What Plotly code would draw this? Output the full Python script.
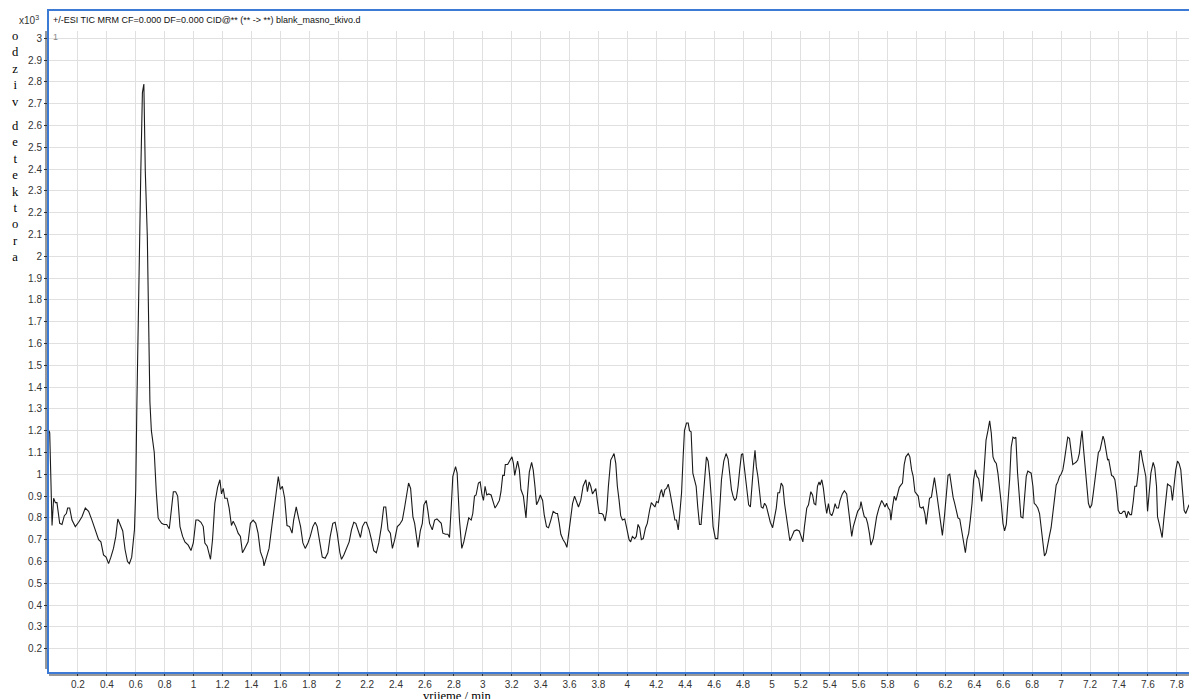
import plotly.graph_objects as go

# retention time (min) and detector response (x10^3)
time_min = [
    0.000, 0.005, 0.021, 0.032, 0.044, 0.055, 0.074, 0.090, 0.106, 0.120, 0.129, 0.143, 0.159, 0.182,
    0.205, 0.228, 0.251, 0.274, 0.297, 0.320, 0.343, 0.359, 0.377, 0.395, 0.412, 0.428, 0.446, 0.462,
    0.476, 0.492, 0.510, 0.526, 0.543, 0.556, 0.572, 0.591, 0.600, 0.608, 0.618, 0.626, 0.635, 0.646,
    0.656, 0.666, 0.680, 0.687, 0.698, 0.708, 0.728, 0.742, 0.755, 0.763, 0.779, 0.795, 0.814, 0.832,
    0.848, 0.860, 0.876, 0.890, 0.906, 0.924, 0.940, 0.963, 0.982, 0.998, 1.016, 1.032, 1.051, 1.067,
    1.078, 1.094, 1.117, 1.131, 1.147, 1.166, 1.182, 1.193, 1.205, 1.216, 1.232, 1.246, 1.262, 1.274,
    1.292, 1.308, 1.324, 1.338, 1.354, 1.377, 1.393, 1.412, 1.430, 1.446, 1.462, 1.481, 1.487, 1.503,
    1.522, 1.538, 1.554, 1.572, 1.586, 1.600, 1.614, 1.630, 1.646, 1.664, 1.681, 1.692, 1.710, 1.726,
    1.740, 1.756, 1.772, 1.791, 1.807, 1.825, 1.841, 1.855, 1.871, 1.890, 1.910, 1.929, 1.945, 1.963,
    1.979, 1.993, 2.012, 2.023, 2.039, 2.058, 2.076, 2.092, 2.108, 2.122, 2.138, 2.154, 2.168, 2.184,
    2.195, 2.214, 2.230, 2.246, 2.264, 2.281, 2.299, 2.315, 2.329, 2.345, 2.361, 2.375, 2.391, 2.409,
    2.425, 2.444, 2.460, 2.476, 2.487, 2.501, 2.517, 2.529, 2.540, 2.552, 2.568, 2.582, 2.593, 2.609,
    2.621, 2.632, 2.651, 2.667, 2.683, 2.701, 2.713, 2.724, 2.743, 2.759, 2.770, 2.782, 2.793, 2.812,
    2.823, 2.839, 2.855, 2.869, 2.885, 2.903, 2.920, 2.931, 2.943, 2.954, 2.970, 2.982, 2.995, 3.005,
    3.016, 3.028, 3.041, 3.058, 3.069, 3.085, 3.099, 3.115, 3.126, 3.138, 3.149, 3.156, 3.172, 3.189,
    3.202, 3.212, 3.221, 3.230, 3.241, 3.253, 3.264, 3.281, 3.290, 3.299, 3.310, 3.322, 3.338, 3.349,
    3.361, 3.372, 3.386, 3.398, 3.414, 3.425, 3.441, 3.455, 3.471, 3.487, 3.506, 3.517, 3.529, 3.540,
    3.556, 3.570, 3.582, 3.593, 3.609, 3.621, 3.635, 3.648, 3.662, 3.678, 3.694, 3.713, 3.724, 3.736,
    3.747, 3.759, 3.770, 3.782, 3.793, 3.805, 3.823, 3.832, 3.846, 3.858, 3.869, 3.885, 3.897, 3.908,
    3.920, 3.931, 3.943, 3.954, 3.966, 3.982, 3.995, 4.012, 4.023, 4.035, 4.051, 4.062, 4.074, 4.085,
    4.097, 4.110, 4.126, 4.138, 4.154, 4.166, 4.179, 4.191, 4.202, 4.214, 4.228, 4.237, 4.248, 4.260,
    4.271, 4.283, 4.294, 4.306, 4.317, 4.329, 4.340, 4.352, 4.363, 4.375, 4.386, 4.395, 4.409, 4.421,
    4.430, 4.441, 4.453, 4.462, 4.476, 4.487, 4.499, 4.510, 4.522, 4.536, 4.547, 4.559, 4.570, 4.582,
    4.593, 4.609, 4.625, 4.637, 4.651, 4.667, 4.683, 4.697, 4.708, 4.720, 4.731, 4.743, 4.754, 4.766,
    4.777, 4.789, 4.798, 4.809, 4.816, 4.828, 4.839, 4.851, 4.862, 4.874, 4.883, 4.892, 4.903, 4.915,
    4.926, 4.938, 4.949, 4.961, 4.972, 4.989, 5.005, 5.016, 5.030, 5.041, 5.053, 5.064, 5.076, 5.087,
    5.099, 5.110, 5.124, 5.138, 5.154, 5.172, 5.189, 5.202, 5.214, 5.225, 5.241, 5.253, 5.269, 5.281,
    5.292, 5.303, 5.315, 5.326, 5.333, 5.345, 5.356, 5.368, 5.379, 5.391, 5.402, 5.414, 5.425, 5.437,
    5.448, 5.460, 5.471, 5.487, 5.501, 5.517, 5.529, 5.540, 5.552, 5.563, 5.579, 5.593, 5.609, 5.616,
    5.628, 5.639, 5.651, 5.662, 5.674, 5.685, 5.701, 5.713, 5.724, 5.740, 5.759, 5.770, 5.782, 5.793,
    5.805, 5.816, 5.823, 5.834, 5.846, 5.858, 5.869, 5.881, 5.892, 5.903, 5.915, 5.926, 5.943, 5.954,
    5.966, 5.977, 5.989, 6.000, 6.012, 6.023, 6.035, 6.046, 6.058, 6.067, 6.078, 6.090, 6.103, 6.115,
    6.124, 6.136, 6.147, 6.159, 6.170, 6.179, 6.193, 6.205, 6.218, 6.230, 6.241, 6.253, 6.264, 6.276,
    6.287, 6.299, 6.310, 6.326, 6.338, 6.349, 6.361, 6.372, 6.384, 6.395, 6.407, 6.418, 6.430, 6.441,
    6.451, 6.460, 6.471, 6.481, 6.494, 6.506, 6.517, 6.529, 6.540, 6.552, 6.563, 6.575, 6.586, 6.598,
    6.609, 6.621, 6.632, 6.644, 6.655, 6.667, 6.678, 6.687, 6.699, 6.710, 6.722, 6.736, 6.747, 6.759,
    6.770, 6.782, 6.793, 6.805, 6.814, 6.825, 6.839, 6.851, 6.862, 6.874, 6.885, 6.897, 6.908, 6.920,
    6.931, 6.943, 6.954, 6.966, 6.977, 6.989, 7.000, 7.012, 7.023, 7.035, 7.046, 7.058, 7.069, 7.081,
    7.092, 7.103, 7.115, 7.126, 7.138, 7.145, 7.154, 7.166, 7.177, 7.189, 7.200, 7.212, 7.223, 7.235,
    7.246, 7.258, 7.269, 7.281, 7.290, 7.299, 7.310, 7.322, 7.329, 7.338, 7.349, 7.361, 7.372, 7.384,
    7.395, 7.407, 7.418, 7.430, 7.441, 7.453, 7.464, 7.476, 7.487, 7.499, 7.510, 7.522, 7.533, 7.545,
    7.552, 7.563, 7.575, 7.586, 7.598, 7.609, 7.621, 7.637, 7.648, 7.660, 7.667, 7.678, 7.690, 7.699,
    7.710, 7.722, 7.736, 7.747, 7.759, 7.770, 7.782, 7.793, 7.805, 7.816, 7.828, 7.839, 7.851, 7.862,
    7.874, 7.885, 7.897, 7.906, 7.917, 7.926, 7.940,
]

response = [
    1.20, 1.19, 0.765, 0.89, 0.87, 0.87, 0.775, 0.77, 0.81, 0.82, 0.845, 0.845, 0.79, 0.76,
    0.78, 0.805, 0.845, 0.83, 0.79, 0.745, 0.70, 0.69, 0.63, 0.62, 0.59, 0.62, 0.66, 0.715,
    0.795, 0.77, 0.74, 0.655, 0.60, 0.59, 0.62, 0.745, 0.93, 1.33, 1.79, 2.09, 2.39, 2.75,
    2.79, 2.39, 2.09, 1.79, 1.33, 1.20, 1.10, 0.92, 0.80, 0.79, 0.775, 0.77, 0.77, 0.75,
    0.85, 0.92, 0.92, 0.90, 0.76, 0.715, 0.69, 0.675, 0.65, 0.685, 0.79, 0.79, 0.78, 0.76,
    0.685, 0.67, 0.61, 0.70, 0.867, 0.94, 0.975, 0.91, 0.935, 0.89, 0.89, 0.845, 0.765, 0.785,
    0.76, 0.73, 0.715, 0.64, 0.66, 0.69, 0.775, 0.79, 0.775, 0.73, 0.645, 0.61, 0.58, 0.62,
    0.66, 0.745, 0.83, 0.90, 0.99, 0.93, 0.945, 0.89, 0.765, 0.76, 0.73, 0.79, 0.85, 0.80,
    0.76, 0.685, 0.66, 0.685, 0.715, 0.76, 0.78, 0.76, 0.685, 0.62, 0.615, 0.64, 0.715, 0.775,
    0.78, 0.73, 0.64, 0.61, 0.63, 0.66, 0.69, 0.745, 0.78, 0.775, 0.74, 0.71, 0.76, 0.78,
    0.78, 0.745, 0.70, 0.65, 0.64, 0.685, 0.76, 0.85, 0.85, 0.745, 0.73, 0.66, 0.70, 0.76,
    0.77, 0.79, 0.85, 0.91, 0.96, 0.935, 0.805, 0.775, 0.715, 0.665, 0.74, 0.775, 0.86, 0.88,
    0.83, 0.775, 0.745, 0.79, 0.795, 0.78, 0.775, 0.73, 0.725, 0.725, 0.71, 0.85, 0.99, 1.035,
    1.005, 0.79, 0.66, 0.69, 0.745, 0.80, 0.79, 0.82, 0.90, 0.905, 0.96, 0.965, 0.905, 0.88,
    0.945, 0.905, 0.91, 0.905, 0.88, 0.845, 0.86, 0.88, 0.92, 0.995, 0.995, 1.045, 1.045, 1.065,
    1.08, 1.05, 0.995, 1.025, 1.06, 1.02, 0.93, 0.90, 0.83, 0.80, 0.91, 1.01, 1.055, 1.02,
    0.945, 0.86, 0.88, 0.905, 0.88, 0.815, 0.76, 0.755, 0.79, 0.83, 0.82, 0.82, 0.775, 0.725,
    0.70, 0.685, 0.665, 0.715, 0.805, 0.865, 0.90, 0.88, 0.85, 0.88, 0.945, 0.975, 0.92, 0.965,
    0.945, 0.91, 0.925, 0.935, 0.875, 0.82, 0.82, 0.815, 0.785, 0.835, 0.945, 1.065, 1.08, 1.095,
    1.05, 0.945, 0.88, 0.81, 0.79, 0.795, 0.755, 0.70, 0.69, 0.715, 0.705, 0.715, 0.77, 0.755,
    0.70, 0.705, 0.755, 0.775, 0.835, 0.87, 0.86, 0.85, 0.875, 0.87, 0.915, 0.93, 0.895, 0.93,
    0.935, 0.955, 0.92, 0.875, 0.835, 0.79, 0.79, 0.745, 0.82, 0.915, 1.08, 1.20, 1.235, 1.235,
    1.20, 1.195, 1.005, 0.975, 0.945, 0.85, 0.77, 0.77, 0.867, 1.005, 1.08, 1.06, 0.99, 0.88,
    0.76, 0.705, 0.705, 0.82, 0.975, 1.06, 1.095, 1.07, 0.99, 0.93, 0.90, 0.88, 0.89, 0.945,
    1.02, 1.09, 1.095, 1.035, 0.975, 0.93, 0.86, 0.85, 0.96, 1.05, 1.11, 1.035, 0.99, 0.90,
    0.85, 0.845, 0.867, 0.855, 0.82, 0.78, 0.755, 0.80, 0.845, 0.915, 0.915, 0.96, 0.945, 0.867,
    0.805, 0.745, 0.695, 0.715, 0.74, 0.745, 0.74, 0.715, 0.69, 0.76, 0.845, 0.86, 0.92, 0.905,
    0.865, 0.86, 0.945, 0.965, 0.95, 0.975, 0.935, 0.867, 0.82, 0.865, 0.82, 0.81, 0.83, 0.865,
    0.845, 0.845, 0.88, 0.91, 0.925, 0.91, 0.85, 0.79, 0.715, 0.76, 0.805, 0.83, 0.845, 0.875,
    0.835, 0.805, 0.80, 0.775, 0.73, 0.675, 0.705, 0.755, 0.805, 0.845, 0.88, 0.867, 0.85, 0.867,
    0.845, 0.835, 0.79, 0.85, 0.90, 0.88, 0.915, 0.94, 0.95, 0.96, 1.045, 1.08, 1.095, 1.08,
    1.02, 0.99, 0.92, 0.91, 0.90, 0.85, 0.845, 0.85, 0.82, 0.77, 0.83, 0.89, 0.895, 0.95,
    0.985, 0.93, 0.875, 0.82, 0.76, 0.72, 0.805, 0.915, 0.995, 1.00, 0.945, 0.895, 0.867, 0.83,
    0.80, 0.795, 0.745, 0.685, 0.64, 0.70, 0.73, 0.79, 0.867, 0.975, 1.02, 0.99, 0.98, 0.93,
    0.875, 0.945, 1.05, 1.157, 1.20, 1.245, 1.19, 1.08, 1.06, 1.05, 1.005, 0.945, 0.867, 0.775,
    0.74, 0.77, 0.85, 0.975, 1.125, 1.17, 1.165, 1.17, 1.005, 0.90, 0.805, 0.80, 0.915, 0.99,
    1.015, 1.01, 1.005, 0.945, 0.867, 0.86, 0.845, 0.82, 0.76, 0.685, 0.625, 0.64, 0.685, 0.72,
    0.755, 0.82, 0.89, 0.95, 0.965, 0.99, 1.00, 1.02, 1.065, 1.125, 1.17, 1.165, 1.11, 1.045,
    1.05, 1.055, 1.065, 1.095, 1.165, 1.20, 1.125, 1.03, 0.945, 0.867, 0.845, 0.86, 0.915, 0.975,
    1.035, 1.10, 1.11, 1.157, 1.175, 1.157, 1.11, 1.065, 1.07, 1.03, 0.995, 0.99, 0.975, 0.915,
    0.835, 0.82, 0.82, 0.83, 0.83, 0.80, 0.83, 0.815, 0.815, 0.875, 0.945, 0.945, 1.005, 1.105,
    1.11, 1.065, 1.03, 0.99, 0.83, 0.93, 1.005, 1.055, 1.03, 0.945, 0.805, 0.775, 0.74, 0.71,
    0.79, 0.867, 0.955, 0.95, 0.945, 0.88, 0.96, 1.02, 1.06, 1.05, 1.02, 0.92, 0.835, 0.82,
    0.845, 0.86, 0.835, 0.79, 0.765, 0.76, 0.765,
]

x_tick_values = [0.2, 0.4, 0.6, 0.8, 1.0, 1.2, 1.4, 1.6, 1.8, 2.0, 2.2, 2.4, 2.6, 2.8, 3.0, 3.2, 3.4, 3.6,
                 3.8, 4.0, 4.2, 4.4, 4.6, 4.8, 5.0, 5.2, 5.4, 5.6, 5.8, 6.0, 6.2, 6.4, 6.6, 6.8, 7.0, 7.2,
                 7.4, 7.6, 7.8]
x_tick_labels = ["0.2", "0.4", "0.6", "0.8", "1", "1.2", "1.4", "1.6", "1.8", "2", "2.2", "2.4", "2.6",
                 "2.8", "3", "3.2", "3.4", "3.6", "3.8", "4", "4.2", "4.4", "4.6", "4.8", "5", "5.2", "5.4",
                 "5.6", "5.8", "6", "6.2", "6.4", "6.6", "6.8", "7", "7.2", "7.4", "7.6", "7.8"]
y_tick_values = [0.2, 0.3, 0.4, 0.5, 0.6, 0.7, 0.8, 0.9, 1.0, 1.1, 1.2, 1.3, 1.4, 1.5, 1.6, 1.7, 1.8,
                 1.9, 2.0, 2.1, 2.2, 2.3, 2.4, 2.5, 2.6, 2.7, 2.8, 2.9, 3.0]
y_tick_labels = ["0.2", "0.3", "0.4", "0.5", "0.6", "0.7", "0.8", "0.9", "1", "1.1", "1.2", "1.3", "1.4",
                 "1.5", "1.6", "1.7", "1.8", "1.9", "2", "2.1", "2.2", "2.3", "2.4", "2.5", "2.6", "2.7",
                 "2.8", "2.9", "3"]

title_text = "+/-ESI TIC MRM CF=0.000 DF=0.000 CID@** (** -> **) blank_masno_tkivo.d"
y_title_1 = ["o", "d", "z", "i", "v"]
y_title_2 = ["d", "e", "t", "e", "k", "t", "o", "r", "a"]
x_title = "vrijeme / min"

# page body has an 8px margin: the figure is drawn 8px shorter/narrower and shifted
OFF = 8
W, H = 1197 - OFF, 699 - OFF
ML, MR, MT, MB = 49 - OFF, 0, 31 - OFF, 26
PW, PH = W - ML - MR, H - MT - MB


def px_x(page_px):
    return (page_px - OFF - ML) / PW


def px_y(page_py):
    return (H - MB - (page_py - OFF)) / PH


fig = go.Figure()
fig.add_trace(go.Scatter(x=time_min, y=response, mode="lines",
                         line=dict(color="#1a1a1a", width=1.1), hoverinfo="x+y"))

tick_font = dict(family="Liberation Sans, Arial, sans-serif", size=10, color="#333333")
serif = dict(family="Liberation Serif, Times New Roman, serif", size=12.6, color="#000000")

fig.update_layout(
    width=W, height=H,
    margin=dict(l=ML, r=MR, t=MT, b=MB),
    paper_bgcolor="white", plot_bgcolor="white",
    showlegend=False,
    xaxis=dict(range=[0, 7.94], tickvals=x_tick_values, ticktext=x_tick_labels,
               showgrid=True, gridcolor="#e0e0e0", gridwidth=1, zeroline=False,
               ticks="outside", ticklen=2, tickcolor="#333333", tickfont=tick_font,
               showline=False),
    yaxis=dict(range=[0.0886, 3.033], tickvals=y_tick_values, ticktext=y_tick_labels,
               showgrid=True, gridcolor="#e0e0e0", gridwidth=1, zeroline=False,
               ticks="outside", ticklen=4, tickcolor="#333333", tickfont=tick_font,
               showline=False),
)

annotations = [
    dict(text=title_text, x=px_x(51), y=px_y(20), xref="paper", yref="paper",
         xanchor="left", yanchor="middle", showarrow=False,
         font=dict(family="Liberation Sans, Arial, sans-serif", size=9, color="#111111")),
    dict(text="x10<sup>3</sup>", x=px_x(41), y=px_y(20), xref="paper", yref="paper",
         xanchor="right", yanchor="middle", showarrow=False, font=tick_font),
    dict(text="1", x=px_x(51), y=px_y(37), xref="paper", yref="paper",
         xanchor="left", yanchor="middle", showarrow=False,
         font=dict(family="Liberation Sans, Arial, sans-serif", size=9, color="#888888")),
    dict(text="<br>".join(y_title_1), x=px_x(15), y=px_y(69.5), xref="paper", yref="paper",
         xanchor="center", yanchor="middle", showarrow=False, font=serif),
    dict(text="<br>".join(y_title_2), x=px_x(15), y=px_y(192), xref="paper", yref="paper",
         xanchor="center", yanchor="middle", showarrow=False, font=serif),
    dict(text=x_title, x=px_x(457), y=px_y(695.5), xref="paper", yref="paper",
         xanchor="center", yanchor="middle", showarrow=False, font=serif),
]
fig.update_layout(annotations=annotations)

shapes = [
    # blue frame around the chart area
    dict(type="rect", xref="paper", yref="paper", x0=px_x(48), x1=px_x(1199), y0=px_y(673), y1=px_y(10),
         line=dict(color="#3d7ad6", width=2), layer="above"),
    # dark axis lines
    dict(type="line", xref="paper", yref="paper", x0=px_x(46), x1=px_x(46), y0=px_y(669), y1=px_y(31),
         line=dict(color="#333333", width=1)),
    dict(type="line", xref="paper", yref="paper", x0=px_x(49), x1=px_x(1197), y0=px_y(675), y1=px_y(675),
         line=dict(color="#333333", width=1)),
]
fig.update_layout(shapes=shapes)

fig.write_html("out.html")
